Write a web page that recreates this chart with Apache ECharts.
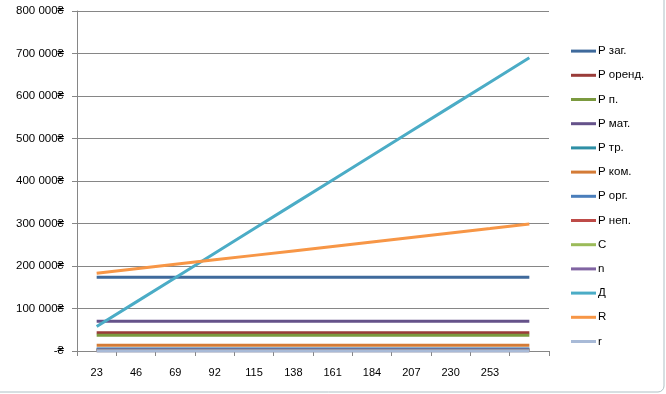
<!DOCTYPE html>
<html>
<head>
<meta charset="utf-8">
<script src="https://cdn.jsdelivr.net/npm/echarts@6/dist/echarts.min.js"></script>
<style>html,body{margin:0;padding:0;background:#fff}#c{width:666px;height:394px}</style>
</head>
<body>
<div id="c"></div>
<script>
var categories = ['23','46','69','92','115','138','161','184','207','230','253',''];
var seriesNames = ['Р заг.','Р оренд.','Р п.','Р мат.','Р тр.','Р ком.','Р орг.','Р неп.','C','n','Д','R','r'];
var seriesColors = ['#3f6a9c','#9a3c39','#7b9a3f','#65528a','#2e8fa5','#d47b36','#4a7ebb','#be4b48','#9bbb59','#8064a2','#4bacc6','#f79646','#a8bad7'];
var pZag   = [173500,173500,173500,173500,173500,173500,173500,173500,173500,173500,173500,173500];
var pOrend = [43000,43000,43000,43000,43000,43000,43000,43000,43000,43000,43000,43000];
var pP     = [37000,37000,37000,37000,37000,37000,37000,37000,37000,37000,37000,37000];
var pMat   = [70000,70000,70000,70000,70000,70000,70000,70000,70000,70000,70000,70000];
var pTr    = [4000,4000,4000,4000,4000,4000,4000,4000,4000,4000,4000,4000];
var pKom   = [13500,13500,13500,13500,13500,13500,13500,13500,13500,13500,13500,13500];
var pOrg   = [5000,5000,5000,5000,5000,5000,5000,5000,5000,5000,5000,5000];
var pNep   = [1500,1500,1500,1500,1500,1500,1500,1500,1500,1500,1500,1500];
var cVals  = [800,800,800,800,800,800,800,800,800,800,800,800];
var nVals  = [23,46,69,92,115,138,161,184,207,230,253,276];
var dVals  = [57500,115000,172500,230000,287500,345000,402500,460000,517500,575000,632500,690000];
var rVals  = [183000,193500,204000,214500,225000,235500,246000,256500,267000,277500,288000,299000];
var rSmall = [0.3,0.6,0.8,1.1,1.3,1.5,1.6,1.8,1.9,2.0,2.2,2.3];
var yTicks = {min:0, max:800000, interval:100000};

var allData = [pZag,pOrend,pP,pMat,pTr,pKom,pOrg,pNep,cVals,nVals,dVals,rVals,rSmall];

function fmt(v){
  if (v === 0) return '-₴';
  return String(v).replace(/\B(?=(\d{3})+(?!\d))/g,' ') + '₴';
}

var chart = echarts.init(document.getElementById('c'), null, {renderer:'canvas'});
chart.setOption({
  animation:false,
  backgroundColor:'#ffffff',
  graphic:[{type:'rect', shape:{x:-10,y:-10,width:674,height:402,r:6}, style:{fill:'none',stroke:'#aebfc4',lineWidth:1}, silent:true, z:-1}],
  grid:{left:77, right:117, top:11, bottom:43},
  legend:{
    orient:'vertical', left:571, top:44, padding:0,
    itemWidth:25, itemHeight:3, itemGap:10,
    icon:'rect',
    textStyle:{fontFamily:'Liberation Sans, Arial, sans-serif', fontSize:11.5, color:'#000', lineHeight:14.2, padding:[0,0,0,-3]},
    data:seriesNames
  },
  xAxis:{
    type:'category', data:categories, boundaryGap:true,
    axisLine:{lineStyle:{color:'#868686', width:1}},
    axisTick:{show:true, length:5, lineStyle:{color:'#868686'}, alignWithLabel:false},
    axisLabel:{color:'#000', fontSize:11, fontFamily:'Liberation Sans, Arial, sans-serif', margin:16, interval:0},
    splitLine:{show:false}
  },
  yAxis:{
    type:'value', min:yTicks.min, max:yTicks.max, interval:yTicks.interval,
    axisLine:{show:true, lineStyle:{color:'#868686'}},
    axisTick:{show:true, length:5, lineStyle:{color:'#868686'}},
    axisLabel:{color:'#000', fontSize:11.5, fontFamily:'Liberation Sans, Arial, sans-serif', margin:13, formatter:fmt},
    splitLine:{show:true, lineStyle:{color:'#868686', width:1}}
  },
  series: seriesNames.map(function(name,i){
    return {
      name:name, type:'line', data:allData[i],
      showSymbol:false, symbol:'none',
      lineStyle:{width:3, color:seriesColors[i]},
      itemStyle:{color:seriesColors[i]},
      z: 2 + i
    };
  })
});
</script>
</body>
</html>
